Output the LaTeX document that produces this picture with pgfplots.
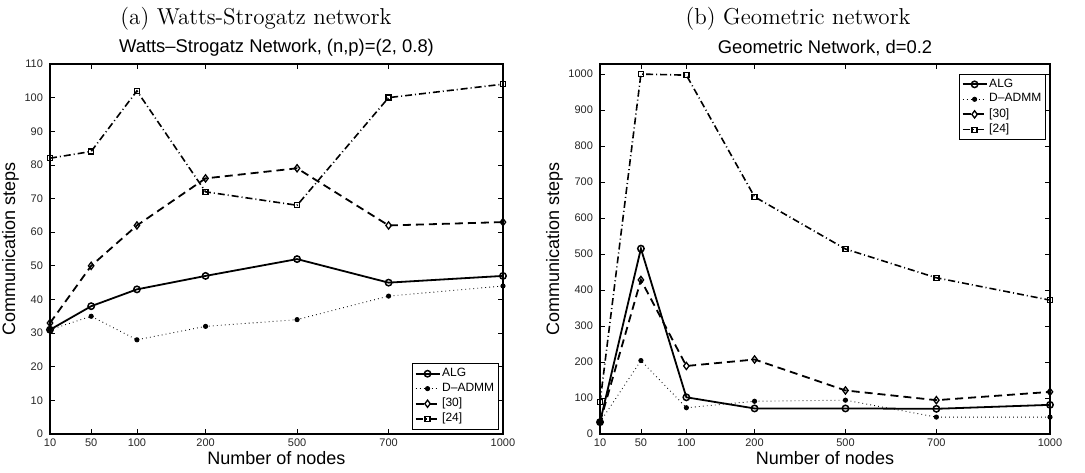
\documentclass[border=0pt]{standalone}
\usepackage{fontspec}
\newfontfamily\arial{Liberation Sans}
\usepackage{pgfplots}
\pgfplotsset{compat=1.18}

\pgfplotsset{
  matlab/.style={
    scale only axis,
    width=226.5pt, height=185pt,
    xmin=10, xmax=1000,
    xtick={10,100,200,350,550,750,1000},
    xticklabels={10,50,100,200,500,700,1000},
    ymin=0,
    tick align=inside,
    major tick length=2.5pt,
    axis line style={line width=0.6pt},
    every tick/.style={black, line width=0.4pt},
    /pgf/number format/assume math mode=true,
    /pgf/number format/1000 sep={},
    ticklabel style={font=\arial\fontsize{5.5}{6}\selectfont, black!85},
    xticklabel style={yshift=1pt},
    label style={font=\arial\fontsize{9}{10}\selectfont},
    xlabel={Number of nodes},
    ylabel={Communication steps},
    xlabel style={yshift=4.5pt},
    ylabel style={yshift=-4pt},
    title style={font=\arial\fontsize{9.2}{10}\selectfont, yshift=-5.5pt},
    legend cell align=left,
    legend style={font=\arial\fontsize{6}{6.5}\selectfont, draw=black,
      line width=0.5pt, inner sep=1.2pt, row sep=0pt,
      nodes={inner sep=0.9pt}},
    legend image code/.code={
      \draw[mark repeat=2, mark phase=2] plot coordinates {(0cm,0cm)(0.21cm,0cm)(0.42cm,0cm)};},
  },
  algs/.style={black, line width=0.9pt, mark=o, mark size=1.6pt,
    mark options={solid, fill=white, line width=0.75pt}},
  admm/.style={black, line width=0.45pt, dash pattern=on 0.4pt off 1.6pt,
    mark=*, mark size=1.05pt, mark options={solid}},
  ref30/.style={black, line width=0.9pt, dash pattern=on 4pt off 2.5pt,
    mark=diamond, mark size=1.8pt, mark options={solid, fill=white, line width=0.65pt}},
  ref24/.style={black, line width=0.8pt, dash pattern=on 3.5pt off 1.5pt on 0.5pt off 1.5pt,
    mark=square, mark size=1.25pt, mark options={solid, fill=white, line width=0.65pt}},
}

\begin{document}
\begin{tikzpicture}
\useasboundingbox (0,0) rectangle (542.5pt,236pt);

\node[font=\fontsize{11.5}{13}\selectfont] at (128pt,226.8pt) {(a) Watts-Strogatz network};
\node[font=\fontsize{11.5}{13}\selectfont] at (399pt,226.8pt) {(b) Geometric network};

\begin{axis}[matlab,
  at={(25pt,19pt)}, anchor=south west,
  ymax=110, ytick={0,10,...,110},
  title={Watts–Strogatz Network, (n,p)=(2, 0.8)},
  legend style={at={(0.991,0.012)}, anchor=south east},
]
  \addplot[algs] coordinates {(10,31)(100,38)(200,43)(350,47)(550,52)(750,45)(1000,47)};
  \addlegendentry{ALG}
  \addplot[admm] coordinates {(10,31)(100,35)(200,28)(350,32)(550,34)(750,41)(1000,44)};
  \addlegendentry{D–ADMM}
  \addplot[ref30] coordinates {(10,33)(100,50)(200,62)(350,76)(550,79)(750,62)(1000,63)};
  \addlegendentry{\relax[30]}
  \addplot[ref24] coordinates {(10,82)(100,84)(200,102)(350,72)(550,68)(750,100)(1000,104)};
  \addlegendentry{\relax[24]}
\end{axis}

\begin{axis}[matlab,
  at={(300pt,19pt)}, anchor=south west,
  width=225pt,
  ymax=1028, ytick={0,100,...,1000},
  title={Geometric Network, d=0.2},
  legend style={at={(0.991,0.973)}, anchor=north east},
]
  \addplot[algs] coordinates {(10,33)(100,515)(200,102)(350,71)(550,71)(750,70)(1000,81)};
  \addlegendentry{ALG}
  \addplot[admm] coordinates {(10,33)(100,204)(200,73)(350,91)(550,94)(750,47)(1000,47)};
  \addlegendentry{D–ADMM}
  \addplot[ref30] coordinates {(10,33)(100,428)(200,189)(350,207)(550,121)(750,94)(1000,117)};
  \addlegendentry{\relax[30]}
  \addplot[ref24] coordinates {(10,88)(100,1000)(200,997)(350,659)(550,514)(750,434)(1000,372)};
  \addlegendentry{\relax[24]}
\end{axis}
\end{tikzpicture}
\end{document}
